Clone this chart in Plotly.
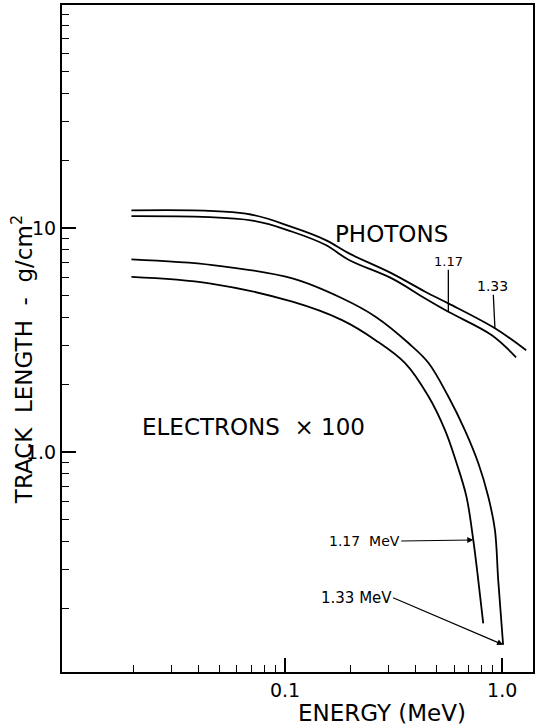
import numpy as np
import plotly.graph_objects as go

# Photon track lengths (g/cm^2) vs energy (MeV)
E_ph133 = [0.0196, 0.066, 0.108, 0.154, 0.197, 0.310, 0.442, 0.565, 0.926, 1.29]
L_ph133 = [12.0, 11.6, 10.1, 8.84, 7.71, 6.28, 5.20, 4.61, 3.57, 2.85]
E_ph117 = [0.0196, 0.0708, 0.108, 0.154, 0.197, 0.310, 0.442, 0.565, 0.893, 1.159]
L_ph117 = [11.3, 10.8, 9.63, 8.40, 7.20, 5.96, 4.85, 4.23, 3.33, 2.65]

# Electron track lengths x 100
E_el133 = [0.0196, 0.0464, 0.108, 0.183, 0.261, 0.371, 0.458, 0.565, 0.674, 0.776, 0.863, 0.926, 0.959, 1.01]
L_el133 = [7.25, 6.84, 5.96, 4.86, 4.02, 3.06, 2.50, 1.77, 1.25, 0.893, 0.631, 0.449, 0.268, 0.138]
E_el117 = [0.0196, 0.0448, 0.108, 0.183, 0.261, 0.358, 0.458, 0.546, 0.617, 0.685, 0.736, 0.776, 0.818]
L_el117 = [6.06, 5.67, 4.69, 3.88, 3.16, 2.49, 1.77, 1.25, 0.891, 0.631, 0.405, 0.268, 0.172]

x_major = [0.1, 1.0]
x_major_text = ["0.1", "1.0"]
y_major = [1.0, 10.0]
y_major_text = ["1.0", "10"]
x_minor = [0.02, 0.03, 0.04, 0.05, 0.06, 0.07, 0.08, 0.09,
           0.2, 0.3, 0.4, 0.5, 0.6, 0.7, 0.8, 0.9]
y_minor = [0.2, 0.3, 0.4, 0.5, 0.6, 0.7, 0.8, 0.9,
           2, 3, 4, 5, 6, 7, 8, 9,
           20, 30, 40, 50, 60, 70, 80, 90]

FONT = "DejaVu Sans"
W, H = 536, 728
L_M, R_M, T_M, B_M = 62, 1, 5, 56
PW, PH = W - L_M - R_M, H - T_M - B_M


def px(xp):
    return (xp - L_M) / PW


def py(yp):
    return (H - B_M - yp) / PH


fig = go.Figure()
for E, Lv in [(E_ph133, L_ph133), (E_ph117, L_ph117), (E_el133, L_el133), (E_el117, L_el117)]:
    fig.add_trace(go.Scatter(x=E, y=Lv, mode="lines",
                             line=dict(color="black", width=1.8, shape="spline", smoothing=1.0),
                             showlegend=False, hoverinfo="skip"))

ann = []


def text(s, xp, yp, size, xanchor="center", angle=0):
    ann.append(dict(text=s, x=px(xp), y=py(yp), xref="paper", yref="paper",
                    showarrow=False, xanchor=xanchor, yanchor="middle", textangle=angle,
                    font=dict(family=FONT, size=size, color="black")))


def labelled_arrow(s, E, Lv, ax, ay, size, head=0, width=1.3, xanchor="center", yanchor="middle"):
    ann.append(dict(text=s, x=np.log10(E), y=np.log10(Lv), xref="x", yref="y",
                    showarrow=True, ax=ax, ay=ay, arrowhead=head, arrowsize=1.0,
                    arrowwidth=width, arrowcolor="black", standoff=0, borderpad=0,
                    xanchor=xanchor, yanchor=yanchor,
                    font=dict(family=FONT, size=size, color="black")))


text("PHOTONS", 393, 234, 23)
text("ELECTRONS \u00a0\u00d7 100", 254, 427, 23)
text("ENERGY (MeV)", 383, 713, 23)
text("TRACK \u00a0LENGTH \u00a0- \u00a0g/cm<sup>2</sup>", 22, 360, 23, angle=-90)

# leader lines for photon curves
labelled_arrow("1.17", E_ph117[7], L_ph117[7], 0, -50, 13)
labelled_arrow("1.33", E_ph133[8], L_ph133[8], -2, -42, 14)
# arrows to electron curves
labelled_arrow("1.17 \u00a0MeV", E_el117[10], L_el117[10], -72, 1, 14, head=2, width=1.2,
               xanchor="right")
labelled_arrow("1.33 MeV", E_el133[13], L_el133[13], -110, -47, 15, head=2, width=1.2,
               xanchor="right")

axis_common = dict(type="log", showline=True, linecolor="black", linewidth=2, mirror=True,
                   ticks="inside", ticklen=14, tickwidth=1.5, tickcolor="black",
                   showgrid=False, zeroline=False,
                   tickfont=dict(family=FONT, size=19, color="black"))

fig.update_layout(
    width=W, height=H,
    margin=dict(l=L_M, r=R_M, t=T_M, b=B_M),
    paper_bgcolor="white", plot_bgcolor="white",
    font=dict(family=FONT, color="black"),
    xaxis=dict(range=[-2.0275, 0.142], tickmode="array", tickvals=x_major, ticktext=x_major_text,
               minor=dict(tickmode="array", tickvals=x_minor, ticks="inside", ticklen=7,
                          tickwidth=1.3, tickcolor="black", showgrid=False),
               **axis_common),
    yaxis=dict(range=[-0.982, 1.996], tickmode="array", tickvals=y_major, ticktext=y_major_text,
               minor=dict(tickmode="array", tickvals=y_minor, ticks="inside", ticklen=7,
                          tickwidth=1.3, tickcolor="black", showgrid=False),
               **axis_common),
    annotations=ann,
)

fig.write_html("out.html", config={"displayModeBar": False},
               post_script="document.body.style.margin='0';document.body.style.overflow='hidden';")
